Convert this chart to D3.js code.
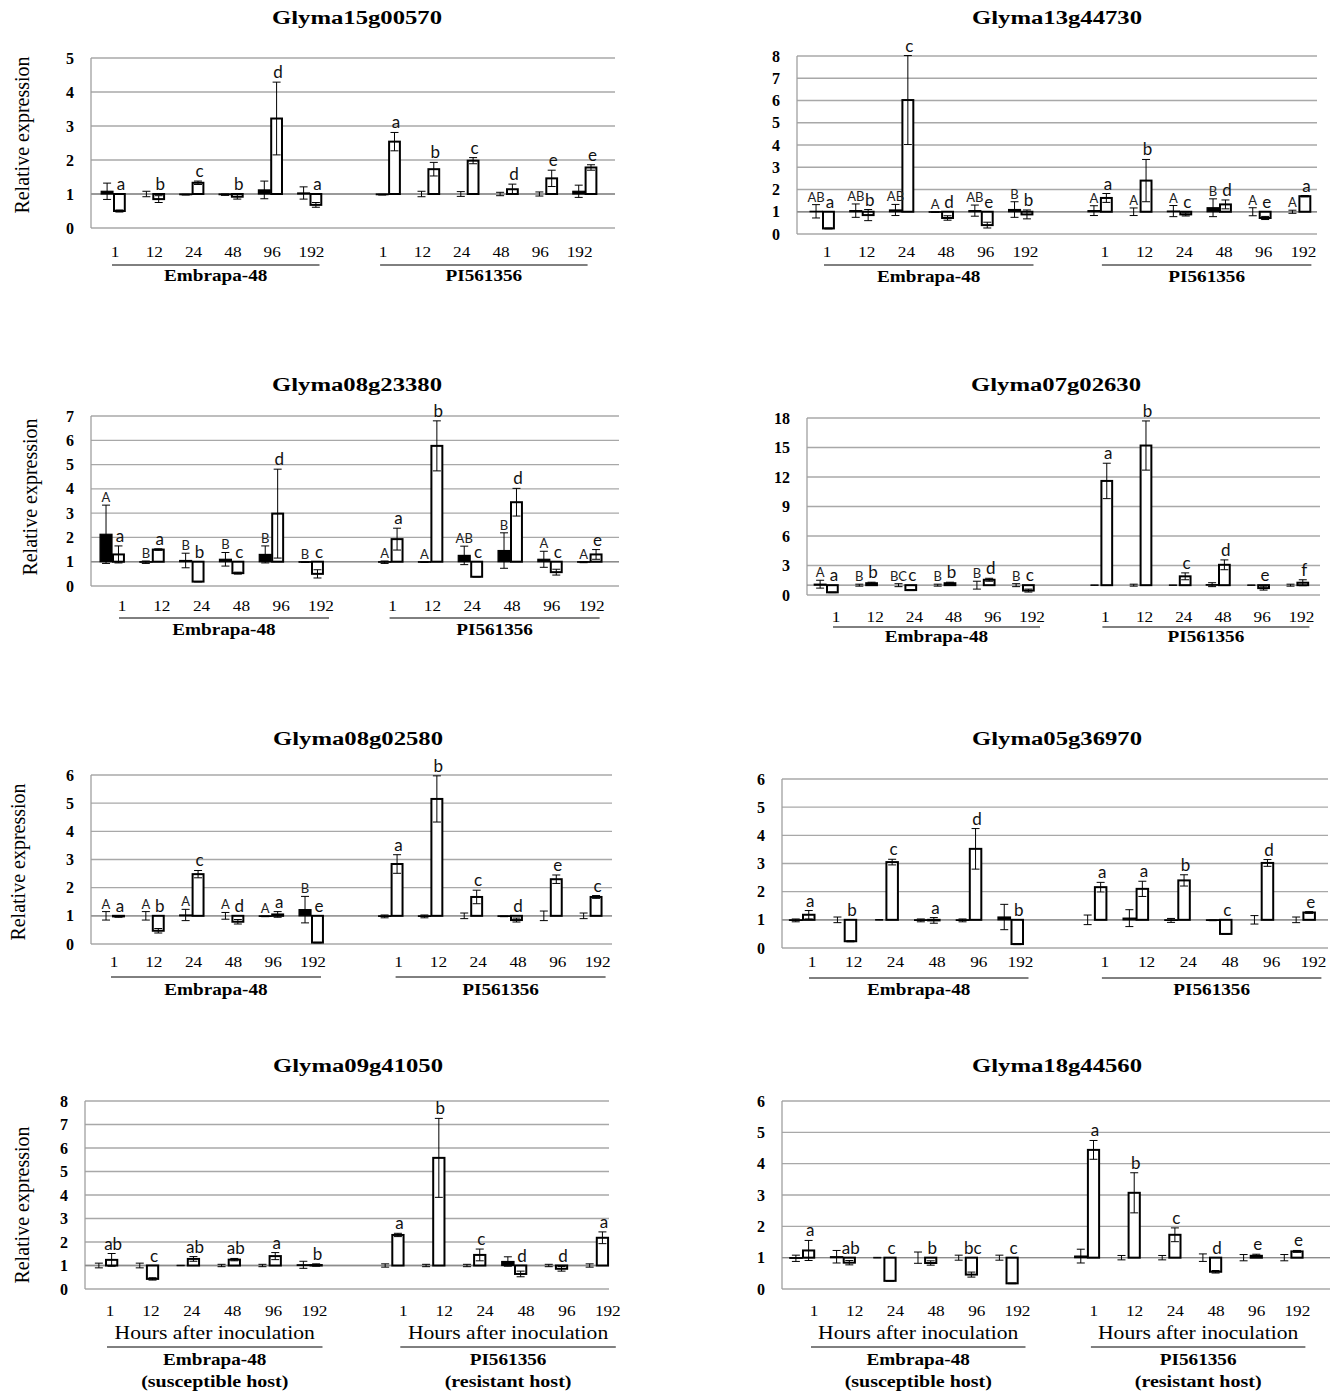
<!DOCTYPE html>
<html>
<head>
<meta charset="utf-8">
<script src="https://cdn.jsdelivr.net/npm/d3@7"></script>
<style>
  body { margin: 0; background: #fff; }
</style>
</head>
<body>
<svg id="fig" width="1343" height="1391"></svg>
<script>
// ---- data (each series: Embrapa-48 1..192 h, then PI561356 1..192 h) ----
const hours = ["1", "12", "24", "48", "96", "192"];
const hostNames = ["Embrapa-48", "PI561356"];
const hostNotes = ["(susceptible host)", "(resistant host)"];
const geneNames = ["Glyma15g00570", "Glyma13g44730", "Glyma08g23380", "Glyma07g02630",
                   "Glyma08g02580", "Glyma05g36970", "Glyma09g41050", "Glyma18g44560"];
const yMaxes = [5, 8, 7, 18, 6, 6, 8, 6];
const ySteps = [1, 1, 1, 3, 1, 1, 1, 1];

const g15Ctrl    = [1.08, 1.0, 0.98, 0.98, 1.12, 1.03, 0.98, 1.0, 1.0, 1.0, 1.0, 1.08];
const g15CtrlErr = [0.24, 0.08, 0.01, 0.02, 0.26, 0.18, 0.01, 0.08, 0.07, 0.05, 0.06, 0.18];
const g15Inoc    = [0.5, 0.85, 1.33, 0.92, 3.22, 0.68, 2.54, 1.73, 1.98, 1.14, 1.46, 1.78];
const g15InocErr = [0.03, 0.1, 0.05, 0.07, 1.07, 0.07, 0.27, 0.2, 0.09, 0.15, 0.24, 0.08];
const g15CtrlLet = ["", "", "", "", "", "", "", "", "", "", "", ""];
const g15InocLet = ["a", "b", "c", "b", "d", "a", "a", "b", "c", "d", "e", "e"];

const g13Ctrl    = [1.02, 1.05, 1.08, 0.98, 1.05, 1.1, 1.05, 1.0, 1.03, 1.18, 1.0, 1.0];
const g13CtrlErr = [0.3, 0.3, 0.25, 0.01, 0.25, 0.35, 0.22, 0.17, 0.25, 0.4, 0.18, 0.07];
const g13Inoc    = [0.25, 0.85, 6.02, 0.72, 0.4, 0.88, 1.62, 2.4, 0.88, 1.33, 0.72, 1.7];
const g13InocErr = [0.02, 0.25, 2.0, 0.1, 0.13, 0.2, 0.2, 0.95, 0.07, 0.2, 0.07, 0.03];
const g13CtrlLet = ["AB", "AB", "AB", "A", "AB", "B", "A", "A", "A", "B", "A", "A"];
const g13InocLet = ["a", "b", "c", "d", "e", "b", "a", "b", "c", "d", "e", "a"];

const g08aCtrl    = [2.13, 0.98, 1.05, 1.1, 1.3, 0.98, 0.98, 0.98, 1.26, 1.46, 1.1, 0.98];
const g08aCtrlErr = [1.2, 0.05, 0.3, 0.28, 0.35, 0.01, 0.05, 0.01, 0.38, 0.73, 0.33, 0.02];
const g08aInoc    = [1.3, 1.5, 0.18, 0.53, 2.98, 0.5, 1.93, 5.77, 0.38, 3.45, 0.57, 1.3];
const g08aInocErr = [0.35, 0.03, 0.01, 0.04, 1.83, 0.17, 0.45, 1.03, 0.01, 0.57, 0.12, 0.2];
const g08aCtrlLet = ["A", "B", "B", "B", "B", "B", "A", "A", "AB", "B", "A", "A"];
const g08aInocLet = ["a", "a", "b", "c", "d", "c", "a", "b", "c", "d", "c", "e"];

const g07Ctrl    = [1.1, 1.0, 1.0, 1.0, 1.0, 1.0, 1.0, 1.0, 1.0, 1.05, 1.0, 1.0];
const g07CtrlErr = [0.4, 0.1, 0.15, 0.1, 0.4, 0.15, 0.02, 0.1, 0.02, 0.2, 0.02, 0.1];
const g07Inoc    = [0.27, 1.2, 0.5, 1.2, 1.55, 0.45, 11.6, 15.2, 1.9, 3.07, 0.7, 1.25];
const g07InocErr = [0.03, 0.1, 0.05, 0.1, 0.15, 0.15, 1.8, 2.5, 0.35, 0.5, 0.2, 0.3];
const g07CtrlLet = ["A", "B", "BC", "B", "B", "B", "", "", "", "", "", ""];
const g07InocLet = ["a", "b", "c", "b", "d", "c", "a", "b", "c", "d", "e", "f"];

const g08bCtrl    = [1.0, 1.0, 1.03, 1.0, 0.98, 1.22, 0.98, 0.98, 1.0, 0.98, 1.0, 1.0];
const g08bCtrlErr = [0.15, 0.15, 0.2, 0.12, 0.01, 0.47, 0.05, 0.05, 0.1, 0.01, 0.17, 0.1];
const g08bInoc    = [0.98, 0.47, 2.48, 0.79, 1.05, 0.05, 2.84, 5.15, 1.67, 0.85, 2.3, 1.67];
const g08bInocErr = [0.03, 0.08, 0.13, 0.08, 0.1, 0.01, 0.33, 0.82, 0.24, 0.07, 0.15, 0.05];
const g08bCtrlLet = ["A", "A", "A", "A", "A", "B", "", "", "", "", "", ""];
const g08bInocLet = ["a", "b", "c", "d", "a", "e", "a", "b", "c", "d", "e", "c"];

const g05Ctrl    = [0.98, 1.0, 1.0, 0.98, 0.98, 1.1, 1.0, 1.06, 0.98, 0.98, 1.0, 1.0];
const g05CtrlErr = [0.05, 0.1, 0.01, 0.05, 0.05, 0.45, 0.17, 0.3, 0.07, 0.01, 0.15, 0.1];
const g05Inoc    = [1.18, 0.24, 3.05, 0.98, 3.52, 0.14, 2.16, 2.1, 2.4, 0.5, 3.02, 1.26];
const g05InocErr = [0.15, 0.02, 0.1, 0.1, 0.72, 0.02, 0.17, 0.27, 0.2, 0.01, 0.12, 0.03];
const g05CtrlLet = ["", "", "", "", "", "", "", "", "", "", "", ""];
const g05InocLet = ["a", "b", "c", "a", "d", "b", "a", "a", "b", "c", "d", "e"];

const g09Ctrl    = [1.0, 1.0, 1.0, 1.0, 1.0, 1.03, 1.0, 1.0, 1.0, 1.17, 1.0, 1.0];
const g09CtrlErr = [0.1, 0.1, 0.01, 0.05, 0.05, 0.15, 0.07, 0.05, 0.05, 0.2, 0.05, 0.07];
const g09Inoc    = [1.24, 0.43, 1.28, 1.25, 1.4, 1.02, 2.3, 5.58, 1.45, 0.64, 0.86, 2.18];
const g09InocErr = [0.27, 0.05, 0.1, 0.05, 0.15, 0.05, 0.07, 1.68, 0.25, 0.12, 0.1, 0.25];
const g09CtrlLet = ["", "", "", "", "", "", "", "", "", "", "", ""];
const g09InocLet = ["ab", "c", "ab", "ab", "a", "b", "a", "b", "c", "d", "d", "a"];

const g18Ctrl    = [0.98, 1.03, 1.0, 1.0, 1.0, 1.0, 1.05, 1.0, 1.0, 1.0, 1.0, 1.0];
const g18CtrlErr = [0.1, 0.2, 0.01, 0.18, 0.08, 0.08, 0.22, 0.07, 0.07, 0.12, 0.1, 0.1];
const g18Inoc    = [1.23, 0.84, 0.26, 0.83, 0.46, 0.18, 4.44, 3.07, 1.73, 0.55, 1.06, 1.2];
const g18InocErr = [0.32, 0.07, 0.01, 0.07, 0.08, 0.01, 0.3, 0.64, 0.22, 0.04, 0.05, 0.03];
const g18CtrlLet = ["", "", "", "", "", "", "", "", "", "", "", ""];
const g18InocLet = ["a", "ab", "c", "b", "bc", "c", "a", "b", "c", "d", "e", "e"];

const ctrlSets    = [g15Ctrl, g13Ctrl, g08aCtrl, g07Ctrl, g08bCtrl, g05Ctrl, g09Ctrl, g18Ctrl];
const ctrlErrSets = [g15CtrlErr, g13CtrlErr, g08aCtrlErr, g07CtrlErr, g08bCtrlErr, g05CtrlErr, g09CtrlErr, g18CtrlErr];
const inocSets    = [g15Inoc, g13Inoc, g08aInoc, g07Inoc, g08bInoc, g05Inoc, g09Inoc, g18Inoc];
const inocErrSets = [g15InocErr, g13InocErr, g08aInocErr, g07InocErr, g08bInocErr, g05InocErr, g09InocErr, g18InocErr];
const ctrlLetSets = [g15CtrlLet, g13CtrlLet, g08aCtrlLet, g07CtrlLet, g08bCtrlLet, g05CtrlLet, g09CtrlLet, g18CtrlLet];
const inocLetSets = [g15InocLet, g13InocLet, g08aInocLet, g07InocLet, g08bInocLet, g05InocLet, g09InocLet, g18InocLet];

// ---- layout of the 8 panels (pixels) ----
const layout = [
  {cx: 357,  left: 91,  right: 615,  top: 58,   bottom: 228,  x0: 113, sw: 39.3, titleY: 24,   tickY: 257,  lineY: 265,  hostY: 281,  dx: [2, -5],  ylab: [29, 135]},
  {cx: 1057, left: 797, right: 1317, top: 56,   bottom: 234,  x0: 822, sw: 39.7, titleY: 24,   tickY: 257,  lineY: 265,  hostY: 282,  dx: [5, 5]},
  {cx: 357,  left: 91,  right: 619,  top: 416,  bottom: 586,  x0: 112, sw: 39.8, titleY: 391,  tickY: 611,  lineY: 618,  hostY: 635,  dx: [10, 2],  ylab: [37, 497]},
  {cx: 1056, left: 807, right: 1320, top: 418,  bottom: 595,  x0: 826, sw: 39.2, titleY: 391,  tickY: 622,  lineY: 627,  hostY: 642,  dx: [10, 5]},
  {cx: 358,  left: 91,  right: 612,  top: 775,  bottom: 944,  x0: 112, sw: 39.8, titleY: 745,  tickY: 967,  lineY: 977,  hostY: 995,  dx: [2, 8],   ylab: [25, 862]},
  {cx: 1057, left: 782, right: 1328, top: 779,  bottom: 948,  x0: 802, sw: 41.7, titleY: 745,  tickY: 967,  lineY: 978,  hostY: 995,  dx: [10, 11]},
  {cx: 358,  left: 85,  right: 609,  top: 1101, bottom: 1289, x0: 105, sw: 40.9, titleY: 1072, tickY: 1316, lineY: 1347, hostY: 1365, dx: [5, 12],  ylab: [29, 1205], hoursY: 1339, noteY: 1387},
  {cx: 1057, left: 782, right: 1330, top: 1101, bottom: 1289, x0: 802, sw: 40.7, titleY: 1072, tickY: 1316, lineY: 1347, hostY: 1365, dx: [12, 7],  hoursY: 1339, noteY: 1387}
];

const serif = "'Liberation Serif', 'Times New Roman', serif";
const sans = "Lato, 'Open Sans', sans-serif";
const SX = 1.2;

const svg = d3.select("#fig");

const wideText = (parent, x, y, str, size, weight, sx) =>
  parent.append("text")
    .attr("transform", `translate(${x},${y}) scale(${sx || SX},1)`)
    .attr("text-anchor", "middle")
    .style("font-family", serif)
    .style("font-size", size + "px")
    .style("font-weight", weight)
    .attr("fill", "#000")
    .text(str);

const slotOf = k => k < 6 ? k : k + 1;

const drawPanel = (i) => {
  const L = layout[i];
  const g = svg.append("g");

  const y = d3.scaleLinear().domain([0, yMaxes[i]]).range([L.bottom, L.top]);
  const x = d3.scaleLinear().domain([0, 1]).range([L.x0, L.x0 + L.sw]);
  const ticks = d3.range(0, yMaxes[i] + 0.001, ySteps[i]);
  const bw = L.sw * 0.3;

  // title
  wideText(g, L.cx, L.titleY, geneNames[i], 19, "bold", 1.3);

  // gridlines
  g.selectAll(".grid").data(ticks).enter().append("line")
    .attr("x1", L.left).attr("x2", L.right)
    .attr("y1", d => y(d)).attr("y2", d => y(d))
    .attr("stroke", "#a8a8a8").attr("stroke-width", 1.3);

  // left axis
  g.append("line")
    .attr("x1", L.left).attr("x2", L.left)
    .attr("y1", L.top).attr("y2", L.bottom)
    .attr("stroke", "#a0a0a0").attr("stroke-width", 1.3);

  const ax = g.append("g")
    .attr("transform", `translate(${L.left},0)`)
    .call(d3.axisLeft(y).tickValues(ticks).tickSize(0).tickPadding(17).tickFormat(d3.format("d")));
  ax.select(".domain").remove();
  ax.selectAll("text")
    .attr("fill", "#000")
    .style("font-family", serif)
    .style("font-size", "16px")
    .style("font-weight", "bold");

  // category axis crosses at 1
  g.append("line")
    .attr("x1", L.left).attr("x2", L.right)
    .attr("y1", y(1)).attr("y2", y(1))
    .attr("stroke", "#8c8c8c").attr("stroke-width", 1.4);

  if (L.ylab) {
    g.append("text")
      .attr("transform", `translate(${L.ylab[0]},${L.ylab[1]}) rotate(-90)`)
      .attr("text-anchor", "middle")
      .style("font-family", serif)
      .style("font-size", "20px")
      .text("Relative expression");
  }

  const rows = d3.range(12).map(k => ({
    s: slotOf(k),
    c: ctrlSets[i][k], ce: ctrlErrSets[i][k],
    v: inocSets[i][k], ve: inocErrSets[i][k],
    cl: ctrlLetSets[i][k], vl: inocLetSets[i][k]
  }));

  // control (black) bars, from 1
  g.selectAll(".ctrl").data(rows).enter().append("rect")
    .attr("x", d => x(d.s) - bw)
    .attr("width", bw)
    .attr("y", d => y(Math.max(d.c, 1)))
    .attr("height", d => Math.abs(y(d.c) - y(1)))
    .attr("fill", "#000").attr("stroke", "#000").attr("stroke-width", 1.2);

  // inoculated (white) bars, from 1
  g.selectAll(".inoc").data(rows).enter().append("rect")
    .attr("x", d => x(d.s) + 1)
    .attr("width", bw - 1)
    .attr("y", d => y(Math.max(d.v, 1)))
    .attr("height", d => Math.abs(y(d.v) - y(1)))
    .attr("fill", "#fff").attr("stroke", "#000").attr("stroke-width", 2);

  // error bars
  const errs = [];
  rows.forEach(d => {
    errs.push({cx: x(d.s) - bw / 2, v: d.c, e: d.ce});
    errs.push({cx: x(d.s) + bw / 2 + 0.5, v: d.v, e: d.ve});
  });
  const eg = g.selectAll(".err").data(errs).enter().append("g")
    .attr("stroke", "#000").attr("stroke-width", 1);
  eg.append("line")
    .attr("x1", d => d.cx).attr("x2", d => d.cx)
    .attr("y1", d => y(d.v + d.e)).attr("y2", d => y(d.v - d.e));
  eg.append("line")
    .attr("x1", d => d.cx - 4).attr("x2", d => d.cx + 4)
    .attr("y1", d => y(d.v + d.e)).attr("y2", d => y(d.v + d.e));
  eg.append("line")
    .attr("x1", d => d.cx - 4).attr("x2", d => d.cx + 4)
    .attr("y1", d => y(d.v - d.e)).attr("y2", d => y(d.v - d.e));

  // significance letters
  g.selectAll(".lc").data(rows.filter(d => d.cl)).enter().append("text")
    .attr("x", d => x(d.s) - bw / 2)
    .attr("y", d => y(Math.max(d.c + d.ce, 1)) - 3)
    .attr("text-anchor", "middle")
    .style("font-family", sans)
    .style("font-size", "13px")
    .attr("fill", "#222")
    .text(d => d.cl);

  g.selectAll(".lv").data(rows).enter().append("text")
    .attr("x", d => x(d.s) + bw / 2 + 2)
    .attr("y", d => y(Math.max(d.v + d.ve, 1)) - 4)
    .attr("text-anchor", "middle")
    .style("font-family", sans)
    .style("font-size", "17px")
    .attr("fill", "#111")
    .text(d => d.vl);

  // hour labels, underline and host names
  [0, 1].forEach(h => {
    const ks = d3.range(6).map(k => h * 6 + k);
    ks.forEach((k, j) => {
      wideText(g, x(slotOf(k)) + L.dx[h], L.tickY, hours[j], 15, "normal", 1.15);
    });
    const xa = x(slotOf(ks[0])) + L.dx[h] - 3;
    const xb = x(slotOf(ks[5])) + L.dx[h] + 8;
    const mid = (xa + xb) / 2;
    g.append("line")
      .attr("x1", xa).attr("x2", xb)
      .attr("y1", L.lineY).attr("y2", L.lineY)
      .attr("stroke", "#000").attr("stroke-width", 1);
    if (L.hoursY) {
      wideText(g, mid, L.hoursY, "Hours after inoculation", 18, "normal", 1.2);
      wideText(g, mid, L.noteY, hostNotes[h], 16, "bold", 1.25);
    }
    wideText(g, mid, L.hostY, hostNames[h], 16, "bold", 1.2);
  });
};

d3.range(8).forEach(drawPanel);
</script>
</body>
</html>
